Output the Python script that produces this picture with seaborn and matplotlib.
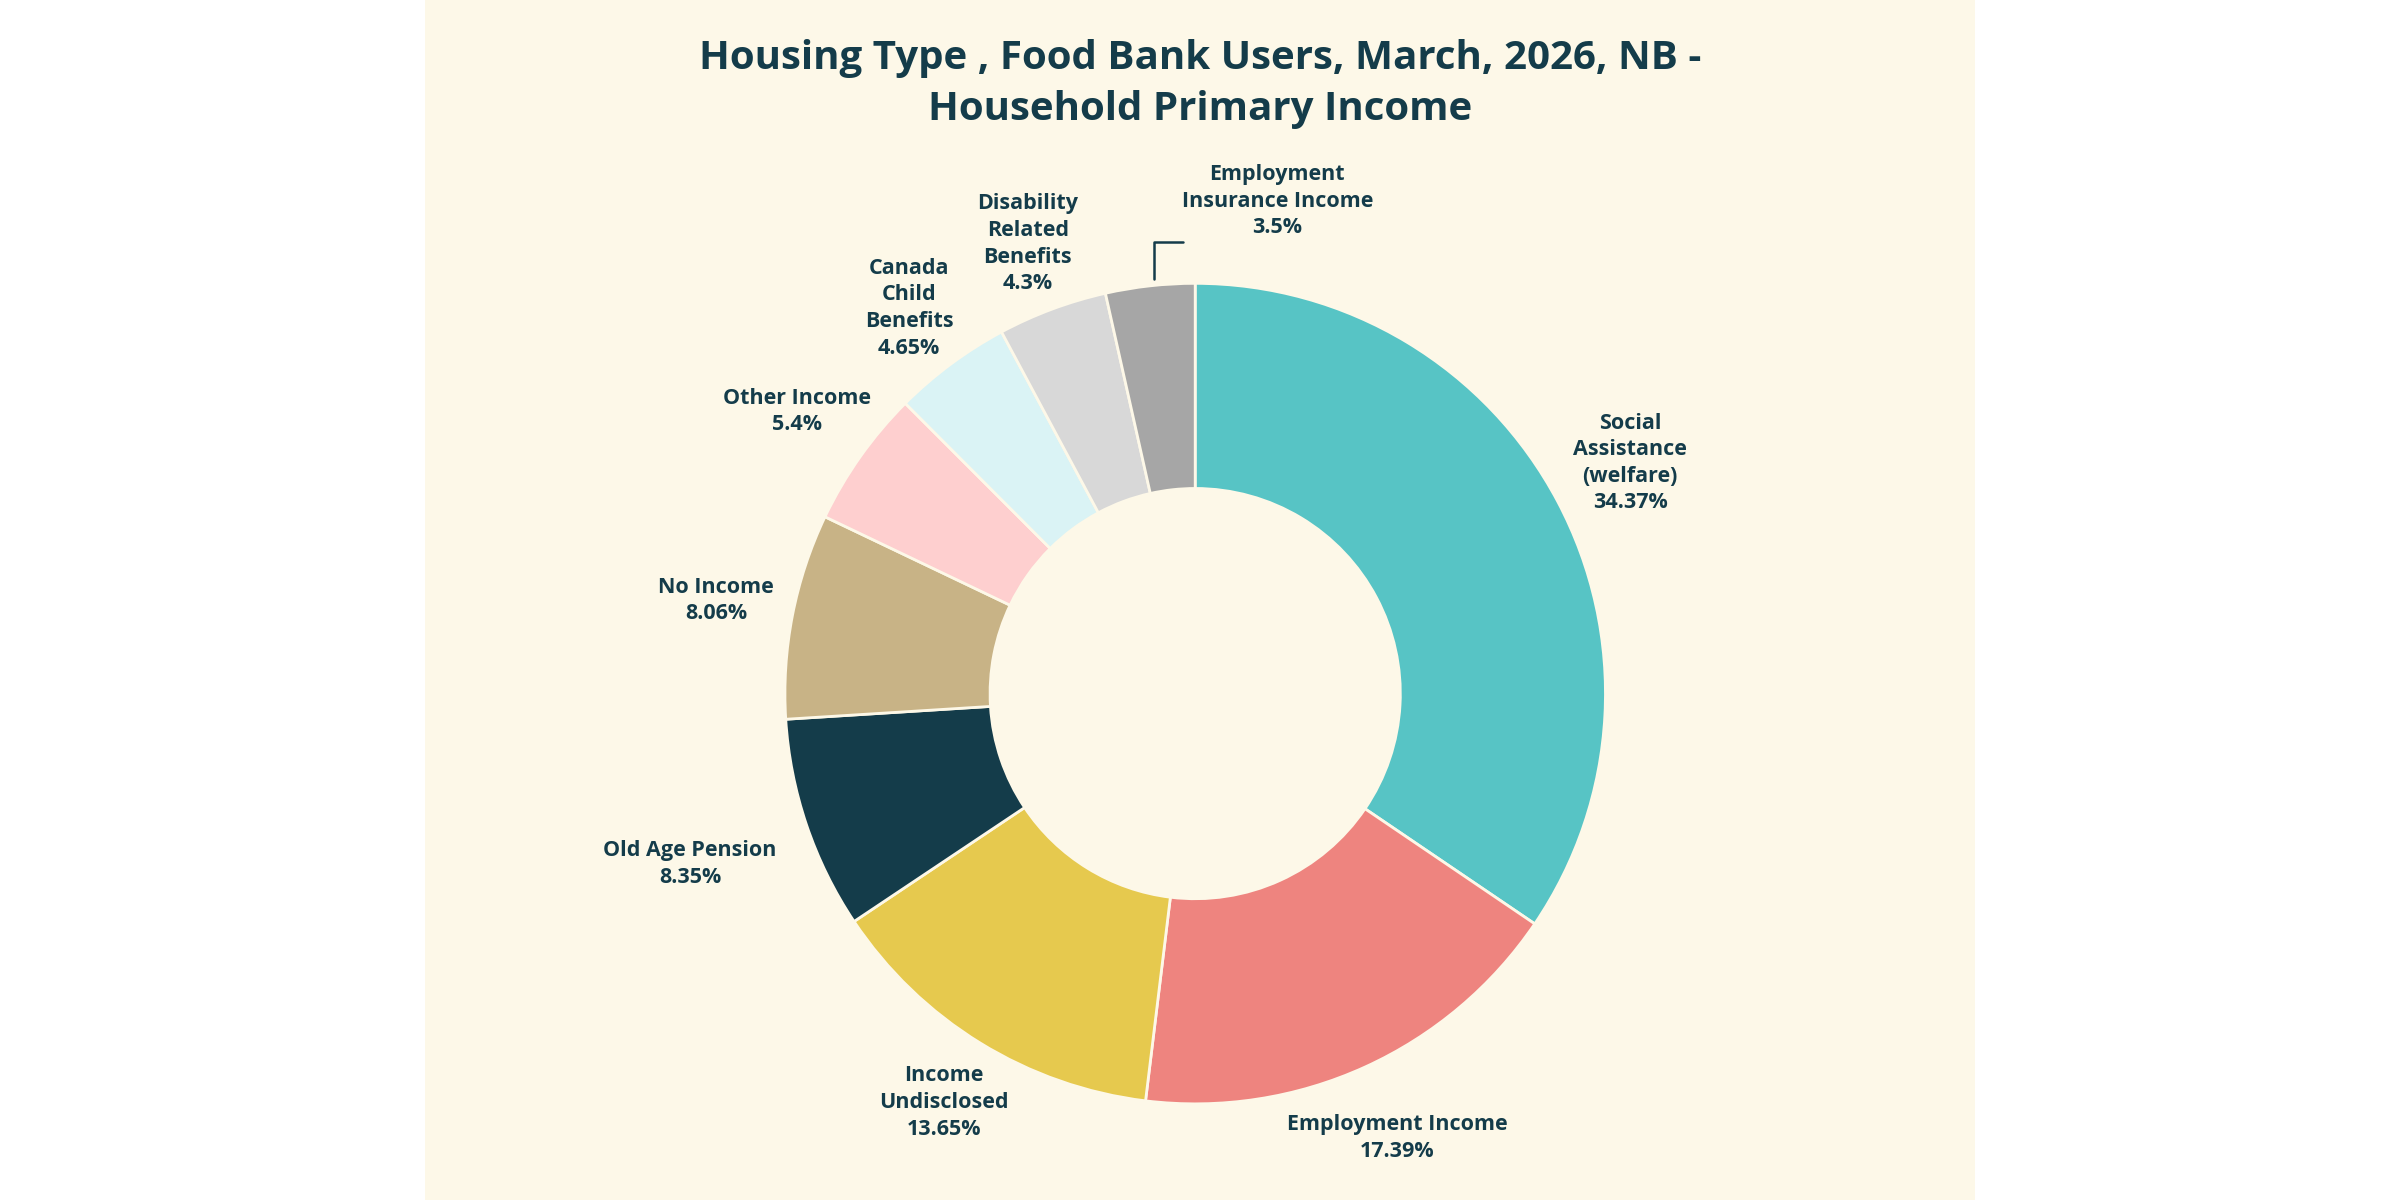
import numpy as np
import matplotlib
matplotlib.use("Agg")
import matplotlib.pyplot as plt
import seaborn as sns
from matplotlib.patches import Rectangle

categories = ["Social\nAssistance\n(welfare)", "Employment Income", "Income\nUndisclosed",
              "Old Age Pension", "No Income", "Other Income", "Canada\nChild\nBenefits",
              "Disability\nRelated\nBenefits", "Employment\nInsurance Income"]
values = [34.37, 17.39, 13.65, 8.35, 8.06, 5.4, 4.65, 4.3, 3.5]
value_labels = ["34.37%", "17.39%", "13.65%", "8.35%", "8.06%", "5.4%", "4.65%", "4.3%", "3.5%"]
colors = ["#57c4c5", "#ee847f", "#e6c94e", "#143c4a", "#c8b386", "#fecfcf",
          "#daf3f5", "#d8d8d8", "#a6a6a6"]

sns.set_theme(style="white")
plt.rcParams['font.family'] = ['Open Sans', 'DejaVu Sans']
txt = "#143c4a"
bg = "#fdf8e8"

fig = plt.figure(figsize=(24, 12), dpi=100)
fig.patch.set_facecolor("white")
bgax = fig.add_axes([0, 0, 1, 1], zorder=-5)
bgax.axis("off")
bgax.set_xlim(0, 1); bgax.set_ylim(0, 1)
bgax.add_patch(Rectangle((425/2400, 0), 1550/2400, 1, facecolor=bg, edgecolor="none"))

ax = fig.add_axes([0.498 - 0.2, 0.022, 0.4, 0.8], zorder=1)
ax.set_facecolor("none")
L = 1.17
wedges, _ = ax.pie(values, colors=colors, startangle=90, counterclock=False,
                   wedgeprops=dict(width=0.5, edgecolor=bg, linewidth=2))
ax.set_xlim(-L, L); ax.set_ylim(-L, L); ax.set_aspect("equal")
ax.axis("off")

radii = [1.2, 1.19, 1.17, 1.3, 1.19, 1.19, 1.17, 1.17, 1.2]
for i, w in enumerate(wedges):
    ang = np.deg2rad((w.theta1 + w.theta2) / 2)
    r = radii[i]
    x, y = r * np.cos(ang), r * np.sin(ang)
    if i == 8:
        x, y = 0.2, 1.2
        ax.plot([-0.1, -0.1, -0.03], [1.01, 1.1, 1.1], color=txt, lw=1.8, clip_on=False)
    ax.text(x, y, categories[i] + "\n" + value_labels[i], ha="center", va="center",
            fontsize=15.5, fontweight="bold", color=txt, linespacing=1.35, clip_on=False)

fig.text(0.5, 0.93, "Housing Type , Food Bank Users, March, 2026, NB -\nHousehold Primary Income",
         ha="center", va="center", fontsize=29, fontweight="bold", color=txt, linespacing=1.4)

fig.savefig("out.png", dpi=100, facecolor=fig.get_facecolor())
